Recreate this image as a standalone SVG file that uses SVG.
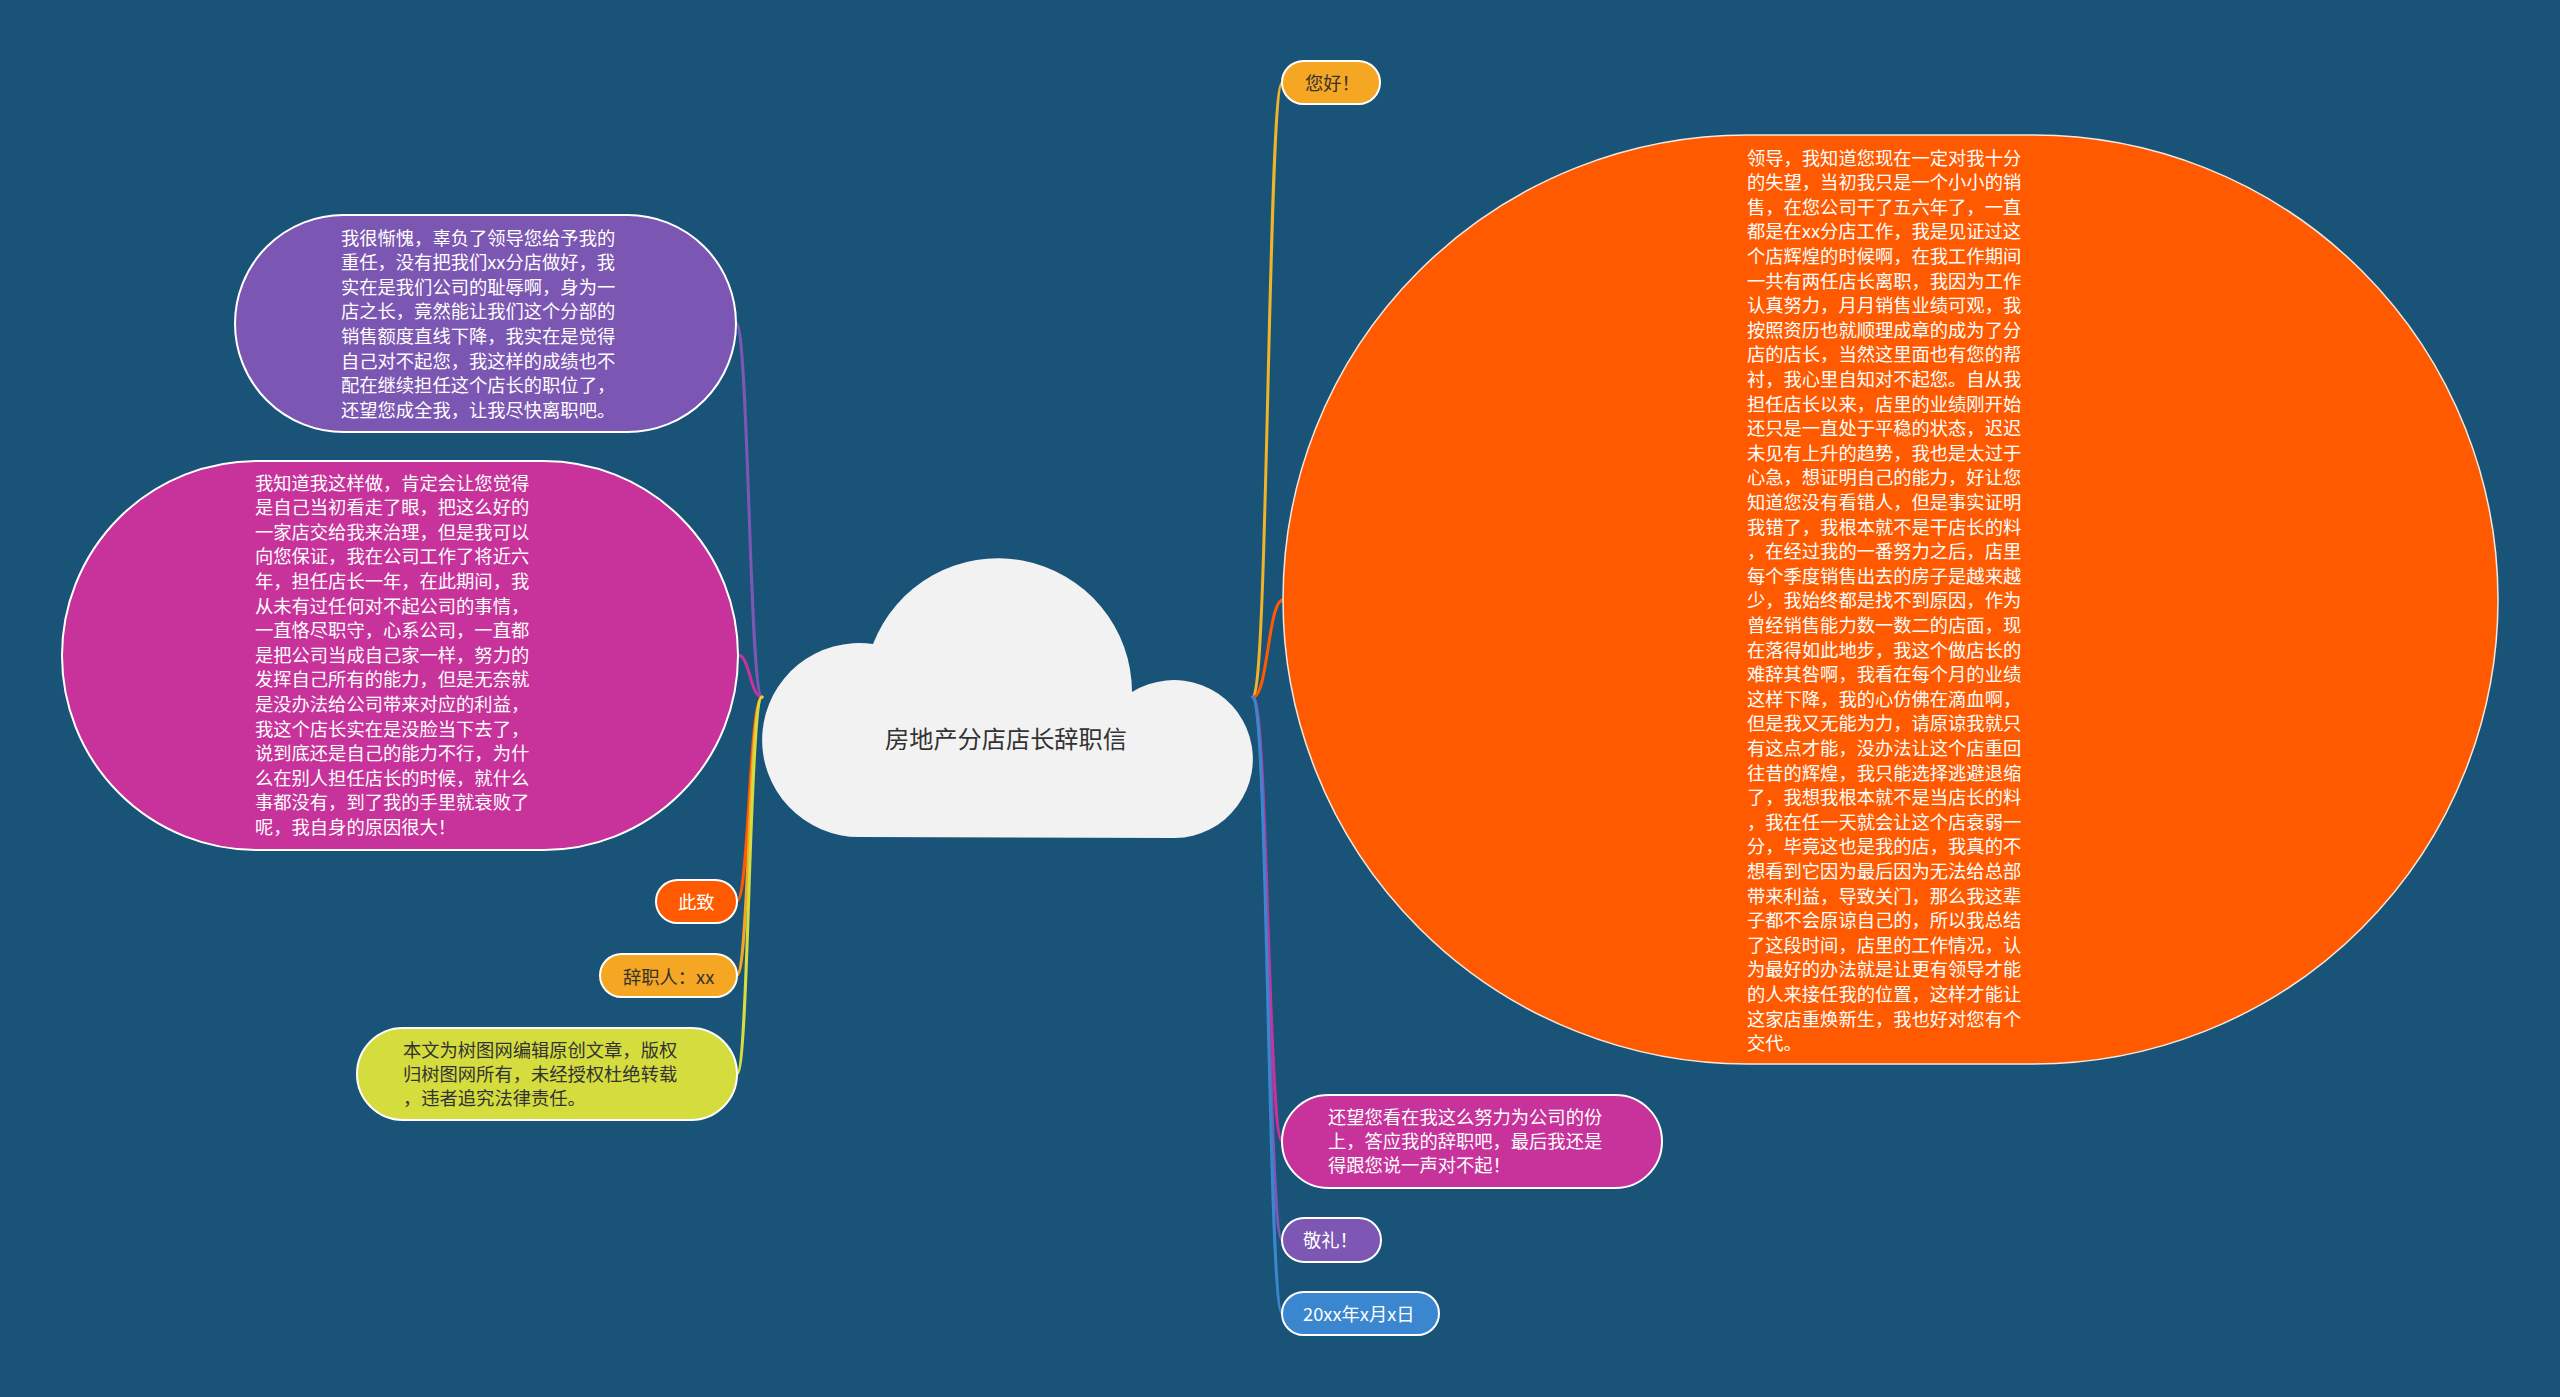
<svg xmlns="http://www.w3.org/2000/svg" width="2560" height="1397" viewBox="0 0 2560 1397">
<style>
.t{font-family:"Noto Sans CJK SC","Microsoft YaHei",sans-serif;font-size:18.3px}
.w{fill:#ffffff}
.d{fill:#333333}
.pill{stroke:#ffffff;stroke-width:2}
.c{fill:none;stroke-width:3;stroke-linecap:round}
</style>
<rect x="0" y="0" width="2560" height="1397" fill="#1a5378"/>
<g id="connectors">
<path class="c" stroke="#7d57b3" d="M762,697 C749,697 749,323 736,323"/>
<path class="c" stroke="#c7339b" d="M762,697 C750,697 750,655 738,655"/>
<path class="c" stroke="#ff5a00" d="M762,697 C749,697 749,901 737,901"/>
<path class="c" stroke="#f5a623" d="M762,697 C749,697 749,975 737,975"/>
<path class="c" stroke="#d4dc3e" d="M762,697 C749,697 749,1074 737,1074"/>
<path class="c" stroke="#f0b429" d="M1253,697 C1268,697 1268,83 1282,83"/>
<path class="c" stroke="#ff5a00" d="M1253,697 C1268,697 1268,600 1283,600"/>
<path class="c" stroke="#c7339b" d="M1253,697 C1268,697 1268,1141 1282,1141"/>
<path class="c" stroke="#7d57b3" d="M1253,697 C1268,697 1268,1240 1282,1240"/>
<path class="c" stroke="#3a87d0" d="M1253,697 C1268,697 1268,1313 1282,1313"/>
</g>
<g id="root">
<path d="M860,837 A97,97 0 1 1 873,644 A134,134 0 0 1 1132,692 A79,79 0 1 1 1175,838 Z" fill="#f2f2f2"/>
<text class="t" x="1006" y="748" text-anchor="middle" style="font-size:24.2px" fill="#333333">房地产分店店长辞职信</text>
</g>
<g id="n-purple">
<rect class="pill" x="235" y="215" width="501" height="217" rx="108.5" fill="#7b56b2"/>
<text class="t w">
<tspan x="341" y="244.5">我很惭愧，辜负了领导您给予我的</tspan>
<tspan x="341" y="269.1">重任，没有把我们xx分店做好，我</tspan>
<tspan x="341" y="293.7">实在是我们公司的耻辱啊，身为一</tspan>
<tspan x="341" y="318.3">店之长，竟然能让我们这个分部的</tspan>
<tspan x="341" y="342.9">销售额度直线下降，我实在是觉得</tspan>
<tspan x="341" y="367.5">自己对不起您，我这样的成绩也不</tspan>
<tspan x="341" y="392.1">配在继续担任这个店长的职位了，</tspan>
<tspan x="341" y="416.7">还望您成全我，让我尽快离职吧。</tspan>
</text>
</g>
<g id="n-magenta-left">
<rect class="pill" x="62" y="461" width="676" height="389" rx="194.5" fill="#c7339b"/>
<text class="t w">
<tspan x="255" y="489.5">我知道我这样做，肯定会让您觉得</tspan>
<tspan x="255" y="514.1">是自己当初看走了眼，把这么好的</tspan>
<tspan x="255" y="538.7">一家店交给我来治理，但是我可以</tspan>
<tspan x="255" y="563.3">向您保证，我在公司工作了将近六</tspan>
<tspan x="255" y="587.9">年，担任店长一年，在此期间，我</tspan>
<tspan x="255" y="612.5">从未有过任何对不起公司的事情，</tspan>
<tspan x="255" y="637.1">一直恪尽职守，心系公司，一直都</tspan>
<tspan x="255" y="661.7">是把公司当成自己家一样，努力的</tspan>
<tspan x="255" y="686.3">发挥自己所有的能力，但是无奈就</tspan>
<tspan x="255" y="710.9">是没办法给公司带来对应的利益，</tspan>
<tspan x="255" y="735.5">我这个店长实在是没脸当下去了，</tspan>
<tspan x="255" y="760.1">说到底还是自己的能力不行，为什</tspan>
<tspan x="255" y="784.7">么在别人担任店长的时候，就什么</tspan>
<tspan x="255" y="809.3">事都没有，到了我的手里就衰败了</tspan>
<tspan x="255" y="833.9">呢，我自身的原因很大！</tspan>
</text>
</g>
<g id="n-cizhi">
<rect class="pill" x="656" y="880" width="81" height="43" rx="21.5" fill="#ff5a00"/>
<text class="t w" x="678" y="908.5">此致</text>
</g>
<g id="n-cizhiren">
<rect class="pill" x="600" y="954" width="137" height="43" rx="21.5" fill="#f5a623"/>
<text class="t d" x="623" y="983.5">辞职人：xx</text>
</g>
<g id="n-copyright">
<rect class="pill" x="357" y="1028" width="380" height="92" rx="46" fill="#d4dc3e"/>
<text class="t d">
<tspan x="403" y="1056.5">本文为树图网编辑原创文章，版权</tspan>
<tspan x="403" y="1080.5">归树图网所有，未经授权杜绝转载</tspan>
<tspan x="403" y="1104.5">，违者追究法律责任。</tspan>
</text>
</g>
<g id="n-hello">
<rect class="pill" x="1282" y="61" width="98" height="43" rx="21.5" fill="#f5a623"/>
<text class="t d" x="1305" y="89.5">您好！</text>
</g>
<g id="n-orange">
<rect x="1283" y="135" width="1215" height="929" rx="464.5" fill="#ff5a00" stroke="#f3e9e0" stroke-width="1.5"/>
<text class="t w">
<tspan x="1747" y="164.5">领导，我知道您现在一定对我十分</tspan>
<tspan x="1747" y="189.1">的失望，当初我只是一个小小的销</tspan>
<tspan x="1747" y="213.7">售，在您公司干了五六年了，一直</tspan>
<tspan x="1747" y="238.3">都是在xx分店工作，我是见证过这</tspan>
<tspan x="1747" y="262.9">个店辉煌的时候啊，在我工作期间</tspan>
<tspan x="1747" y="287.5">一共有两任店长离职，我因为工作</tspan>
<tspan x="1747" y="312.1">认真努力，月月销售业绩可观，我</tspan>
<tspan x="1747" y="336.7">按照资历也就顺理成章的成为了分</tspan>
<tspan x="1747" y="361.3">店的店长，当然这里面也有您的帮</tspan>
<tspan x="1747" y="385.9">衬，我心里自知对不起您。自从我</tspan>
<tspan x="1747" y="410.5">担任店长以来，店里的业绩刚开始</tspan>
<tspan x="1747" y="435.1">还只是一直处于平稳的状态，迟迟</tspan>
<tspan x="1747" y="459.7">未见有上升的趋势，我也是太过于</tspan>
<tspan x="1747" y="484.3">心急，想证明自己的能力，好让您</tspan>
<tspan x="1747" y="508.9">知道您没有看错人，但是事实证明</tspan>
<tspan x="1747" y="533.5">我错了，我根本就不是干店长的料</tspan>
<tspan x="1747" y="558.1">，在经过我的一番努力之后，店里</tspan>
<tspan x="1747" y="582.7">每个季度销售出去的房子是越来越</tspan>
<tspan x="1747" y="607.3">少，我始终都是找不到原因，作为</tspan>
<tspan x="1747" y="631.9">曾经销售能力数一数二的店面，现</tspan>
<tspan x="1747" y="656.5">在落得如此地步，我这个做店长的</tspan>
<tspan x="1747" y="681.1">难辞其咎啊，我看在每个月的业绩</tspan>
<tspan x="1747" y="705.7">这样下降，我的心仿佛在滴血啊，</tspan>
<tspan x="1747" y="730.3">但是我又无能为力，请原谅我就只</tspan>
<tspan x="1747" y="754.9">有这点才能，没办法让这个店重回</tspan>
<tspan x="1747" y="779.5">往昔的辉煌，我只能选择逃避退缩</tspan>
<tspan x="1747" y="804.1">了，我想我根本就不是当店长的料</tspan>
<tspan x="1747" y="828.7">，我在任一天就会让这个店衰弱一</tspan>
<tspan x="1747" y="853.3">分，毕竟这也是我的店，我真的不</tspan>
<tspan x="1747" y="877.9">想看到它因为最后因为无法给总部</tspan>
<tspan x="1747" y="902.5">带来利益，导致关门，那么我这辈</tspan>
<tspan x="1747" y="927.1">子都不会原谅自己的，所以我总结</tspan>
<tspan x="1747" y="951.7">了这段时间，店里的工作情况，认</tspan>
<tspan x="1747" y="976.3">为最好的办法就是让更有领导才能</tspan>
<tspan x="1747" y="1000.9">的人来接任我的位置，这样才能让</tspan>
<tspan x="1747" y="1025.5">这家店重焕新生，我也好对您有个</tspan>
<tspan x="1747" y="1050.1">交代。</tspan>
</text>
</g>
<g id="n-magenta-right">
<rect class="pill" x="1282" y="1095" width="380" height="93" rx="46.5" fill="#c7339b"/>
<text class="t w">
<tspan x="1328" y="1123.5">还望您看在我这么努力为公司的份</tspan>
<tspan x="1328" y="1147.5">上，答应我的辞职吧，最后我还是</tspan>
<tspan x="1328" y="1171.5">得跟您说一声对不起！</tspan>
</text>
</g>
<g id="n-jingli">
<rect class="pill" x="1282" y="1218" width="99" height="44" rx="22" fill="#7d57b3"/>
<text class="t w" x="1303" y="1246.5">敬礼！</text>
</g>
<g id="n-date">
<rect class="pill" x="1282" y="1292" width="157" height="43" rx="21.5" fill="#3a87d0"/>
<text class="t w" x="1303" y="1320.5">20xx年x月x日</text>
</g>
</svg>
